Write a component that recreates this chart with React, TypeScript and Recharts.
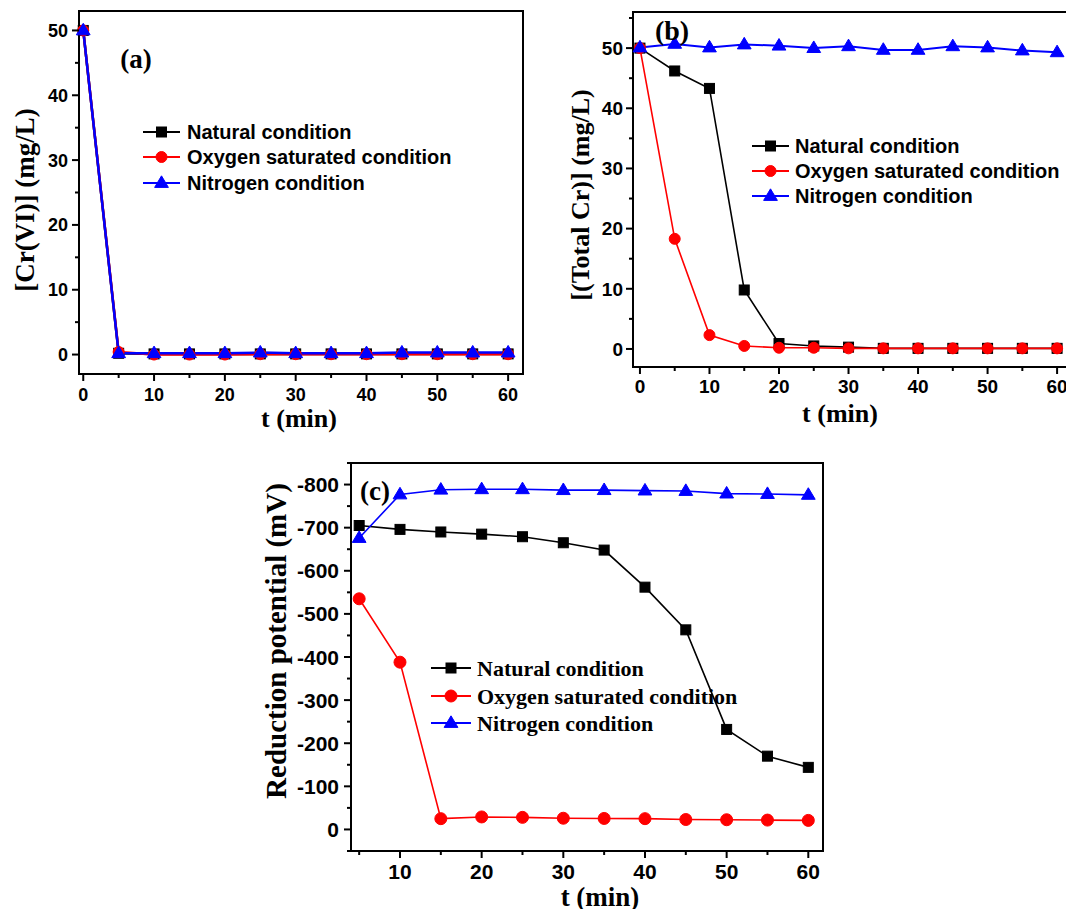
import { Line, LineChart, ReferenceArea, XAxis, YAxis } from "recharts";

// time axes (min)
const T_CR = [0, 5, 10, 15, 20, 25, 30, 35, 40, 45, 50, 55, 60];
const T_POT = [5, 10, 15, 20, 25, 30, 35, 40, 45, 50, 55, 60];

// (a) [Cr(VI)] mg/L
const CR6_NATURAL = [50, 0.2, 0.1, 0.1, 0.1, 0.1, 0.1, 0.1, 0.1, 0.1, 0.1, 0.1, 0.1];
const CR6_OXYGEN = [50, 0.4, 0.0, 0.0, 0.0, 0.05, 0.05, 0.05, 0.05, 0.05, 0.05, 0.05, 0.05];
const CR6_NITROGEN = [50, 0.2, 0.2, 0.2, 0.2, 0.3, 0.2, 0.2, 0.2, 0.3, 0.3, 0.3, 0.3];

// (b) [(Total Cr)] mg/L
const TCR_NATURAL = [50, 46.2, 43.3, 9.8, 0.9, 0.5, 0.3, 0.1, 0.1, 0.1, 0.1, 0.1, 0.1];
const TCR_OXYGEN = [50, 18.3, 2.3, 0.5, 0.2, 0.2, 0.1, 0.1, 0.1, 0.1, 0.1, 0.1, 0.1];
const TCR_NITROGEN = [50.1, 50.7, 50.1, 50.6, 50.4, 50.0, 50.3, 49.7, 49.7, 50.3, 50.1, 49.6, 49.3];

// (c) reduction potential mV
const POT_NATURAL = [-705, -696, -690, -685, -679, -665, -648, -562, -463, -232, -170, -144];
const POT_OXYGEN = [-535, -388, -25, -29, -28, -26, -25.5, -25, -23, -22.5, -21.7, -21];
const POT_NITROGEN = [-676, -777, -788, -789, -789, -787, -787, -786, -785, -779, -778, -776];

const NAMES = ["Natural condition", "Oxygen saturated condition", "Nitrogen condition"];
const COLORS = ["#000000", "#ff0000", "#0000ff"];
const SHAPES = ["square", "circle", "triangle"];

const X_TICKS_CR = [0, 5, 10, 15, 20, 25, 30, 35, 40, 45, 50, 55, 60];
const X_LABELS_CR = [0, 10, 20, 30, 40, 50, 60];
const Y_TICKS_A = [0, 5, 10, 15, 20, 25, 30, 35, 40, 45, 50];
const Y_TICKS_B = [0, 5, 10, 15, 20, 25, 30, 35, 40, 45, 50, 55];
const Y_LABELS_CR = [0, 10, 20, 30, 40, 50];
const X_TICKS_POT = [5, 10, 15, 20, 25, 30, 35, 40, 45, 50, 55, 60];
const X_LABELS_POT = [10, 20, 30, 40, 50, 60];
const Y_TICKS_POT = [-850, -800, -750, -700, -650, -600, -550, -500, -450, -400, -350, -300, -250, -200, -150, -100, -50, 0, 50];
const Y_LABELS_POT = [-800, -700, -600, -500, -400, -300, -200, -100, 0];

const SANS = "'Liberation Sans', Arial, sans-serif";
const SERIF = "'Liberation Serif', 'Times New Roman', serif";

function marker(shape: string, color: string, size: number, cx: number, cy: number, key?: any) {
  if (shape === "square")
    return <rect key={key} x={cx - size / 2} y={cy - size / 2} width={size} height={size} fill={color} stroke={color} strokeWidth={1} />;
  if (shape === "circle")
    return <circle key={key} cx={cx} cy={cy} r={size / 2 + 0.5} fill={color} stroke={color} strokeWidth={1} />;
  const w = size * 1.25;
  const h = size * 1.05;
  return (
    <polygon
      key={key}
      points={`${cx},${cy - h * 0.62} ${cx - w / 2},${cy + h * 0.38} ${cx + w / 2},${cy + h * 0.38}`}
      fill={color}
      stroke={color}
      strokeWidth={1}
      strokeLinejoin="round"
    />
  );
}

const makeDot = (shape: string, color: string, size: number) => (p: any) => {
  const { cx, cy, index } = p;
  if (cx == null || cy == null) return <g key={index} />;
  return marker(shape, color, size, cx, cy, index);
};

const xTick = (labels: number[], fs: number, dy: number) => (p: any) => {
  const { x, y, payload } = p;
  const major = labels.includes(payload.value);
  return (
    <g>
      <line x1={x} x2={x} y1={y} y2={y + (major ? 7 : 4)} stroke="#000" strokeWidth={2} />
      {major && (
        <text x={x} y={y + dy} textAnchor="middle" fontFamily={SANS} fontWeight="bold" fontSize={fs} fill="#000">
          {payload.value}
        </text>
      )}
    </g>
  );
};

const yTick = (labels: number[], fs: number, gap: number) => (p: any) => {
  const { x, y, payload } = p;
  const major = labels.includes(payload.value);
  return (
    <g>
      <line x1={x} x2={x - (major ? 7 : 4)} y1={y} y2={y} stroke="#000" strokeWidth={2} />
      {major && (
        <text x={x - gap} y={y} dy="0.36em" textAnchor="end" fontFamily={SANS} fontWeight="bold" fontSize={fs} fill="#000">
          {payload.value}
        </text>
      )}
    </g>
  );
};

type PanelProps = {
  left: number;
  top: number;
  width: number;
  height: number;
  plot: { l: number; t: number; r: number; b: number };
  t: number[];
  series: number[][];
  xDomain: [number, number];
  yDomain: [number, number];
  xTicks: number[];
  xLabels: number[];
  yTicks: number[];
  yLabels: number[];
  reversed?: boolean;
  fs: number;
  xdy: number;
  ygap: number;
  lw: number[];
  ms: number[];
};

function Panel(p: PanelProps) {
  const data = p.t.map((x, i) => ({ t: x, s0: p.series[0][i], s1: p.series[1][i], s2: p.series[2][i] }));
  return (
    <div style={{ position: "absolute", left: p.left, top: p.top }}>
      <LineChart
        width={p.width}
        height={p.height}
        data={data}
        margin={{ top: p.plot.t - p.top, right: p.left + p.width - p.plot.r, bottom: 0, left: 0 }}
      >
        <XAxis
          dataKey="t"
          type="number"
          domain={p.xDomain}
          ticks={p.xTicks}
          interval={0}
          height={p.top + p.height - p.plot.b}
          tickSize={0}
          tickMargin={0}
          tickLine={false}
          axisLine={{ stroke: "#000", strokeWidth: 2 }}
          tick={xTick(p.xLabels, p.fs, p.xdy)}
        />
        <YAxis
          type="number"
          domain={p.yDomain}
          ticks={p.yTicks}
          interval={0}
          reversed={p.reversed}
          width={p.plot.l - p.left}
          tickSize={0}
          tickMargin={0}
          tickLine={false}
          axisLine={{ stroke: "#000", strokeWidth: 2 }}
          tick={yTick(p.yLabels, p.fs, p.ygap)}
        />
        <ReferenceArea
          x1={p.xDomain[0]}
          x2={p.xDomain[1]}
          y1={p.yDomain[0]}
          y2={p.yDomain[1]}
          fill="none"
          fillOpacity={0}
          stroke="#000"
          strokeWidth={2}
          ifOverflow="visible"
        />
        {[0, 1, 2].map((k) => (
          <Line
            key={k}
            type="linear"
            dataKey={`s${k}`}
            name={NAMES[k]}
            stroke={COLORS[k]}
            strokeWidth={p.lw[k]}
            dot={makeDot(SHAPES[k], COLORS[k], p.ms[k])}
            activeDot={false}
            isAnimationActive={false}
          />
        ))}
      </LineChart>
    </div>
  );
}

function LegendBox({ x1, x2, tx, rows, font, fs, ms }: { x1: number; x2: number; tx: number; rows: number[]; font: string; fs: number; ms: number[] }) {
  return (
    <g>
      {rows.map((ry, k) => (
        <g key={k}>
          <line x1={x1} x2={x2} y1={ry} y2={ry} stroke={COLORS[k]} strokeWidth={2} />
          {marker(SHAPES[k], COLORS[k], ms[k], (x1 + x2) / 2, ry)}
          <text x={tx} y={ry} dy="0.35em" fontFamily={font} fontWeight="bold" fontSize={fs} fill="#000">
            {NAMES[k]}
          </text>
        </g>
      ))}
    </g>
  );
}

export default function App() {
  return (
    <div style={{ position: "absolute", left: 0, top: 0, width: 1066, height: 909, overflow: "hidden", background: "#fff" }}>
      <Panel
        left={0}
        top={0}
        width={540}
        height={440}
        plot={{ l: 79, t: 11, r: 523, b: 374 }}
        t={T_CR}
        series={[CR6_NATURAL, CR6_OXYGEN, CR6_NITROGEN]}
        xDomain={[-0.6, 62.1]}
        yDomain={[-3, 53]}
        xTicks={X_TICKS_CR}
        xLabels={X_LABELS_CR}
        yTicks={Y_TICKS_A}
        yLabels={Y_LABELS_CR}
        fs={18}
        xdy={27}
        ygap={11}
        lw={[2.5, 2.5, 2.5]}
        ms={[10, 10, 11]}
      />
      <Panel
        left={540}
        top={0}
        width={540}
        height={440}
        plot={{ l: 633, t: 12, r: 1071, b: 367 }}
        t={T_CR}
        series={[TCR_NATURAL, TCR_OXYGEN, TCR_NITROGEN]}
        xDomain={[-1, 62]}
        yDomain={[-3, 56]}
        xTicks={X_TICKS_CR}
        xLabels={X_LABELS_CR}
        yTicks={Y_TICKS_B}
        yLabels={Y_LABELS_CR}
        fs={19}
        xdy={26}
        ygap={10}
        lw={[1.6, 1.6, 2]}
        ms={[10, 10, 11]}
      />
      <Panel
        left={250}
        top={440}
        width={600}
        height={469}
        plot={{ l: 351, t: 463, r: 823, b: 851 }}
        t={T_POT}
        series={[POT_NATURAL, POT_OXYGEN, POT_NITROGEN]}
        xDomain={[4, 61.8]}
        yDomain={[-850, 50]}
        reversed
        xTicks={X_TICKS_POT}
        xLabels={X_LABELS_POT}
        yTicks={Y_TICKS_POT}
        yLabels={Y_LABELS_POT}
        fs={21}
        xdy={28}
        ygap={12}
        lw={[1.6, 1.6, 1.6]}
        ms={[10, 11, 11]}
      />
      <svg width={1066} height={909} style={{ position: "absolute", left: 0, top: 0, pointerEvents: "none" }}>
        {/* panel tags */}
        <text x={136} y={59} dy="0.33em" textAnchor="middle" fontFamily={SERIF} fontWeight="bold" fontSize={27}>(a)</text>
        <text x={672} y={31} dy="0.33em" textAnchor="middle" fontFamily={SERIF} fontWeight="bold" fontSize={28}>(b)</text>
        <text x={375} y={491} dy="0.33em" textAnchor="middle" fontFamily={SERIF} fontWeight="bold" fontSize={27}>(c)</text>

        {/* axis titles */}
        <text transform="translate(25,200) rotate(-90)" dy="0.33em" textAnchor="middle" fontFamily={SERIF} fontWeight="bold" fontSize={27}>[Cr(VI)] (mg/L)</text>
        <text x={299} y={418} dy="0.33em" textAnchor="middle" fontFamily={SERIF} fontWeight="bold" fontSize={26}>t (min)</text>
        <text transform="translate(580,195) rotate(-90)" dy="0.33em" textAnchor="middle" fontFamily={SERIF} fontWeight="bold" fontSize={26}>[(Total Cr)] (mg/L)</text>
        <text x={840} y={413} dy="0.33em" textAnchor="middle" fontFamily={SERIF} fontWeight="bold" fontSize={26}>t (min)</text>
        <text transform="translate(276,641) rotate(-90)" dy="0.33em" textAnchor="middle" fontFamily={SERIF} fontWeight="bold" fontSize={29}>Reduction potential (mV)</text>
        <text x={600} y={897} dy="0.33em" textAnchor="middle" fontFamily={SERIF} fontWeight="bold" fontSize={27}>t (min)</text>

        {/* legends */}
        <LegendBox x1={143} x2={180} tx={187} rows={[132, 157, 183]} font={SANS} fs={20} ms={[10, 10, 11]} />
        <LegendBox x1={752} x2={789} tx={795} rows={[146, 171, 196]} font={SANS} fs={20} ms={[10, 10, 11]} />
        <LegendBox x1={431} x2={471} tx={477} rows={[668, 696, 723]} font={SERIF} fs={22} ms={[10, 11, 11]} />
      </svg>
    </div>
  );
}
